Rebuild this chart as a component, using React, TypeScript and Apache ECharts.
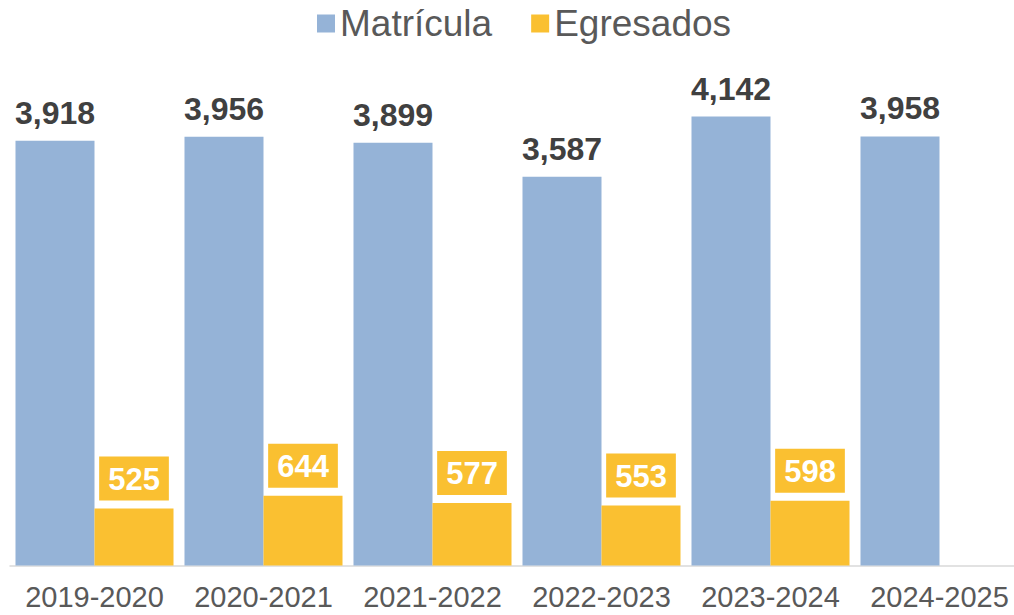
import React, { useEffect, useRef } from "react";
import * as echarts from "echarts";

const categories = ["2019-2020", "2020-2021", "2021-2022", "2022-2023", "2023-2024", "2024-2025"];
const matricula = [3918, 3956, 3899, 3587, 4142, 3958];
const egresados: (number | null)[] = [525, 644, 577, 553, 598, null];

const FONT = "'Liberation Sans', Arial, sans-serif";

export default function App() {
  const ref = useRef<HTMLDivElement>(null);
  useEffect(() => {
    const chart = echarts.init(ref.current!, null, { renderer: "svg" });
    chart.setOption({
      animation: false,
      textStyle: { fontFamily: FONT },
      legend: {
        left: 312,
        top: 0,
        icon: "rect",
        itemWidth: 18,
        itemHeight: 18,
        itemGap: 39,
        textStyle: { fontSize: 37, color: "#595959", fontFamily: FONT },
        data: ["Matrícula", "Egresados"],
      },
      grid: { left: 10, top: 23.5, width: 1014, bottom: 49.5, containLabel: false, outerBoundsMode: "none" },
      xAxis: {
        type: "category",
        data: categories,
        axisLine: { lineStyle: { color: "#D9D9D9", width: 1.5 } },
        axisTick: { show: false },
        axisLabel: { interval: 0, fontSize: 29, color: "#595959", margin: 17, fontFamily: FONT },
      },
      yAxis: {
        type: "value",
        min: 0,
        max: 5000,
        show: false,
        splitLine: { show: false },
      },
      series: [
        {
          name: "Matrícula",
          type: "bar",
          data: matricula,
          barGap: "0%",
          barCategoryGap: "6.5%",
          itemStyle: { color: "#95B3D7" },
          label: {
            show: true,
            position: "top",
            distance: 12,
            fontSize: 32,
            fontWeight: "bold",
            color: "#404040",
            fontFamily: FONT,
            formatter: (p: any) => p.value.toLocaleString("en-US"),
          },
        },
        {
          name: "Egresados",
          type: "bar",
          data: egresados,
          itemStyle: { color: "#FAC031" },
          label: {
            show: true,
            position: "top",
            distance: 8,
            fontSize: 31,
            fontWeight: "bold",
            color: "#FFFFFF",
            backgroundColor: "#FAC031",
            padding: [7, 9, 6, 9],
            fontFamily: FONT,
            formatter: (p: any) => p.value.toLocaleString("en-US"),
          },
        },
      ],
    });
    return () => chart.dispose();
  }, []);
  return (
    <div style={{ position: "absolute", left: 0, top: 0, width: 1014, height: 615, overflow: "hidden", background: "#fff" }}>
      <div ref={ref} style={{ width: 1040, height: 615 }} />
    </div>
  );
}
